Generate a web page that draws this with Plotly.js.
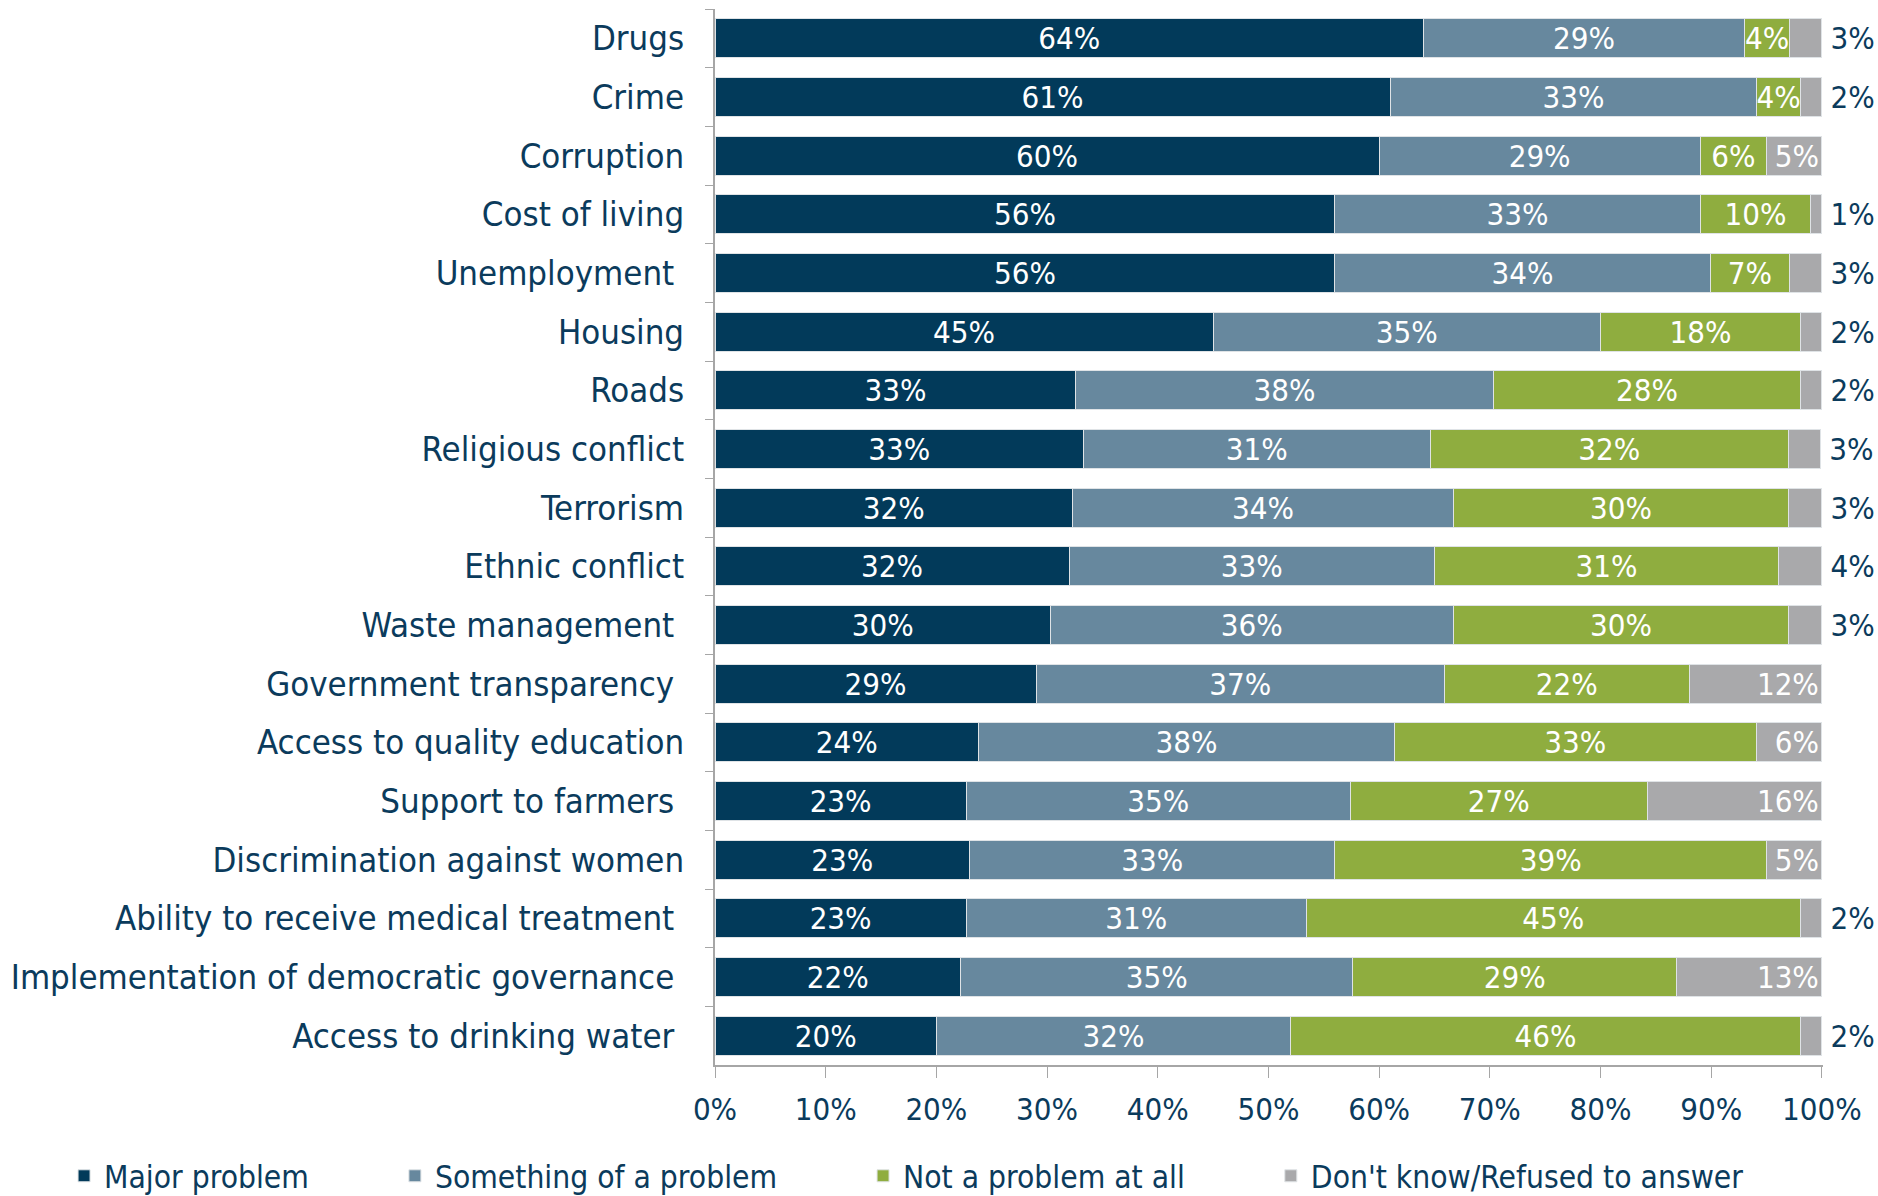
<!DOCTYPE html>
<html>
<head>
<meta charset="utf-8">
<script src="https://cdn.plot.ly/plotly-3.0.1.min.js"></script>
<style>html,body{margin:0;padding:0;background:#fff;}#chart{width:1878px;height:1196px;}</style>
</head>
<body>
<div id="chart"></div>
<script>
const categories = [
  "Drugs", "Crime", "Corruption", "Cost of living", "Unemployment\u00a0", "Housing", "Roads",
  "Religious conflict", "Terrorism", "Ethnic conflict", "Waste management\u00a0",
  "Government transparency\u00a0", "Access to quality education", "Support to farmers\u00a0",
  "Discrimination against women", "Ability to receive medical treatment\u00a0",
  "Implementation of democratic governance\u00a0", "Access to drinking water\u00a0"
];
const majorProblem     = [64.0, 61.0, 60.0, 56.0, 56.0, 45.0, 32.6, 33.3, 32.3, 32.0, 30.3, 29.0, 23.8, 22.7, 23.0, 22.7, 22.2, 20.0];
const somethingProblem = [29.0, 33.1, 29.0, 33.0, 33.9, 35.0, 37.7, 31.3, 34.4, 33.0, 36.4, 36.9, 37.6, 34.7, 33.0, 30.7, 35.4, 32.0];
const notProblem       = [4.1, 4.0, 6.0, 10.0, 7.2, 18.05, 27.8, 32.4, 30.3, 31.1, 30.3, 22.1, 32.65, 26.8, 39.0, 44.65, 29.3, 46.05];
const dontKnow         = [2.9, 1.9, 5.0, 1.0, 2.9, 1.95, 1.9, 2.9, 3.0, 3.9, 3.0, 12.0, 5.95, 15.8, 5.0, 1.95, 13.1, 1.95];
const seriesNames = ["Major problem", "Something of a problem", "Not a problem at all", "Don't know/Refused to answer"];
const xTickValues = [0, 10, 20, 30, 40, 50, 60, 70, 80, 90, 100];
const xTickLabels = ["0%", "10%", "20%", "30%", "40%", "50%", "60%", "70%", "80%", "90%", "100%"];

const NAVY = "#0b3b5c";
const FONT = "'DejaVu Sans Condensed', 'Liberation Sans Narrow', sans-serif";
const colors = ["#023a5a", "#67889e", "#8fad3f", "#a9a9ab"];
const pad = "\u00a0".repeat(9);

function pct(v){ return Math.round(v) + "%"; }

const allSeries = [majorProblem, somethingProblem, notProblem, dontKnow];
const traces = allSeries.map((vals, i) => {
  const isLast = i === 3;
  return {
    type: "bar",
    orientation: "h",
    name: i < 3 ? seriesNames[i] + pad : seriesNames[i],
    y: categories,
    x: vals,
    text: isLast ? vals.map(v => v >= 5 ? pct(v) : "\u2009" + pct(v)) : vals.map(pct),
    textposition: isLast ? vals.map(v => v >= 5 ? "inside" : "outside") : "inside",
    insidetextanchor: isLast ? "end" : "middle",
    textfont: {family: FONT, size: 31},
    insidetextfont: {family: FONT, size: 31, color: "#ffffff"},
    outsidetextfont: {family: FONT, size: 31, color: NAVY},
    constraintext: "none",
    cliponaxis: false,
    marker: {color: colors[i], line: {color: "#dfe3e6", width: 1}},
    hoverinfo: "skip"
  };
});

const layout = {
  width: 1878,
  height: 1196,
  margin: {l: 715, r: 55, t: 9, b: 131, autoexpand: false},
  paper_bgcolor: "#ffffff",
  plot_bgcolor: "#ffffff",
  barmode: "stack",
  bargap: 0.34,
  font: {family: FONT, color: NAVY, size: 31},
  xaxis: {
    range: [0, 100.1],
    tickvals: xTickValues,
    ticktext: xTickLabels,
    showgrid: false,
    zeroline: false,
    showline: true,
    linecolor: "#a6a6a6",
    linewidth: 2,
    ticks: "outside",
    ticklen: 11,
    tickcolor: "#a6a6a6",
    tickwidth: 1,
    ticklabelstandoff: 5,
    tickfont: {family: FONT, size: 31, color: NAVY},
    automargin: false,
    fixedrange: true
  },
  yaxis: {
    autorange: "reversed",
    type: "category",
    showgrid: false,
    zeroline: false,
    showline: true,
    linecolor: "#a6a6a6",
    linewidth: 2,
    ticks: "outside",
    tickson: "boundaries",
    ticklen: 8,
    tickcolor: "#a6a6a6",
    tickwidth: 1,
    ticklabelstandoff: 22,
    tickfont: {family: FONT, size: 34.5, color: NAVY},
    automargin: false,
    fixedrange: true
  },
  showlegend: true,
  legend: {
    orientation: "h",
    x: -0.5875,
    xanchor: "left",
    y: -0.1305,
    yanchor: "bottom",
    traceorder: "normal",
    borderwidth: 0,
    font: {family: FONT, size: 31.5, color: NAVY},
    itemclick: false,
    itemdoubleclick: false
  }
};

Plotly.newPlot("chart", traces, layout, {displayModeBar: false, staticPlot: true});
</script>
</body>
</html>
